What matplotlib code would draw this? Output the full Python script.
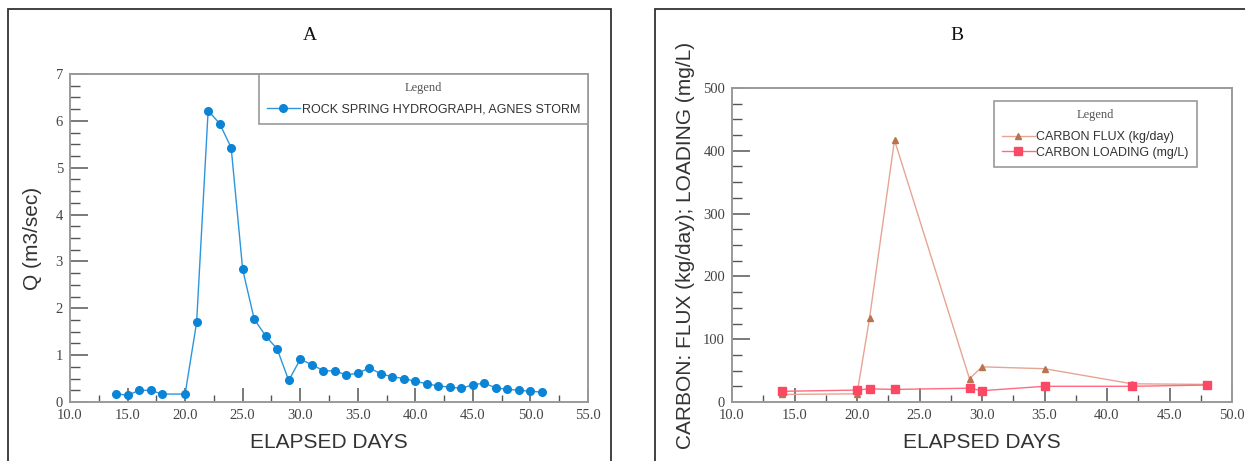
import numpy as np
import matplotlib
matplotlib.use('Agg')
import matplotlib.pyplot as plt
from matplotlib.patches import Rectangle
from matplotlib.ticker import MultipleLocator, FormatStrFormatter

# panel A - hydrograph
daysA = [14, 15, 16, 17, 18, 20, 21, 22, 23, 24, 25, 26, 27, 28, 29, 30, 31, 32,
         33, 34, 35, 36, 37, 38, 39, 40, 41, 42, 43, 44, 45, 46, 47, 48, 49, 50, 51]
flowA = [0.18, 0.14, 0.25, 0.25, 0.17, 0.17, 1.70, 6.22, 5.94, 5.43, 2.83, 1.77,
         1.41, 1.13, 0.46, 0.91, 0.80, 0.67, 0.66, 0.58, 0.61, 0.73, 0.60, 0.54,
         0.50, 0.44, 0.39, 0.34, 0.32, 0.29, 0.37, 0.40, 0.30, 0.27, 0.25, 0.23, 0.21]

# panel B - carbon
daysB = [14, 20, 21, 23, 29, 30, 35, 42, 48]
carbon_flux = [12, 13, 133, 417, 37, 56, 53, 29, 28]
carbon_loading = [17, 19, 21, 20, 22, 18, 25, 25, 27]

W, H = 1245, 461
fig = plt.figure(figsize=(W / 100, H / 100), dpi=100)

serif = 'Liberation Serif'
sans = 'Liberation Sans'
spine_col = '#9a9a9a'
tick_col = '#555555'


def frame(x0, x1):
    r = Rectangle((x0 / W, -0.05), (x1 - x0) / W, 1.05 - 9 / H,
                  transform=fig.transFigure, fill=False,
                  edgecolor='#333333', linewidth=1.3)
    fig.add_artist(r)


def style_axes(ax, xmaj, ymaj, ymin, yfmt):
    for s in ax.spines.values():
        s.set_color(spine_col)
        s.set_linewidth(1.4)
    ax.xaxis.set_major_locator(MultipleLocator(xmaj))
    ax.xaxis.set_minor_locator(MultipleLocator(xmaj / 2))
    ax.yaxis.set_major_locator(MultipleLocator(ymaj))
    ax.yaxis.set_minor_locator(MultipleLocator(ymin))
    ax.xaxis.set_major_formatter(FormatStrFormatter('%.1f'))
    ax.yaxis.set_major_formatter(FormatStrFormatter(yfmt))
    ax.tick_params(which='major', direction='in', length=10, width=1.1,
                   color=tick_col, labelsize=10.5, labelcolor='#444444', pad=5)
    ax.tick_params(which='minor', direction='in', length=5, width=1.0,
                   color=tick_col)
    ax.tick_params(axis='y', which='major', length=13)
    ax.tick_params(axis='y', which='minor', length=7)
    ax.tick_params(top=False, right=False, which='both')
    for lab in ax.get_xticklabels() + ax.get_yticklabels():
        lab.set_fontfamily(serif)
    ax.set_xlabel('ELAPSED DAYS', fontfamily=sans, fontsize=15,
                  color='#333333', labelpad=8)


def make_legend(ax, anchor):
    leg = ax.legend(title='Legend', loc='upper right', bbox_to_anchor=anchor,
                    borderaxespad=0, fancybox=False, framealpha=1,
                    edgecolor=spine_col, prop={'family': sans, 'size': 9},
                    handlelength=2.6, handletextpad=0.15, borderpad=0.65,
                    labelspacing=0.3)
    leg.get_frame().set_linewidth(1.2)
    leg.get_title().set_fontfamily(serif)
    leg.get_title().set_fontsize(9)
    leg.get_title().set_color('#555555')
    for t in leg.get_texts():
        t.set_color('#333333')
    # a bit more room between the "Legend" title and the entries
    leg._legend_box.sep = 7.0
    return leg


frame(8, 611)
frame(655, 1260)

fig.text(310 / W, 1 - 36 / H, 'A', fontfamily=serif, fontsize=14,
         ha='center', va='center', color='#111111')
fig.text(957 / W, 1 - 36 / H, 'B', fontfamily=serif, fontsize=14,
         ha='center', va='center', color='#111111')

# ---- A ----
axA = fig.add_axes([70 / W, 59 / H, 518 / W, 328 / H])
axA.plot(daysA, flowA, color='#2d95dc', linewidth=1.0, marker='o',
         markersize=5.5, markerfacecolor='#0a84d6', markeredgecolor='#0a84d6',
         label='ROCK SPRING HYDROGRAPH, AGNES STORM')
axA.set_xlim(10, 55)
axA.set_ylim(0, 7)
style_axes(axA, 5, 1, 0.25, '%d')
axA.set_ylabel('Q (m3/sec)', fontfamily=sans, fontsize=15, color='#333333',
               labelpad=10)
make_legend(axA, (1, 1))

# ---- B ----
axB = fig.add_axes([732 / W, 59 / H, 500 / W, 314 / H])
axB.plot(daysB, carbon_flux, color='#e6a593', linewidth=1.0, marker='^',
         markersize=5, markerfacecolor='#b9734f', markeredgecolor='#b9734f',
         label='CARBON FLUX (kg/day)')
axB.plot(daysB, carbon_loading, color='#ff6a80', linewidth=1.0, marker='s',
         markersize=5.5, markerfacecolor='#fb4864', markeredgecolor='#fb4864',
         label='CARBON LOADING (mg/L)')
axB.set_xlim(10, 50)
axB.set_ylim(0, 500)
style_axes(axB, 5, 100, 25, '%d')
axB.set_ylabel('CARBON: FLUX (kg/day); LOADING (mg/L)', fontfamily=sans,
               fontsize=15, color='#333333', labelpad=6)
make_legend(axB, (0.93, 0.958))

fig.savefig('out.png', dpi=100)
